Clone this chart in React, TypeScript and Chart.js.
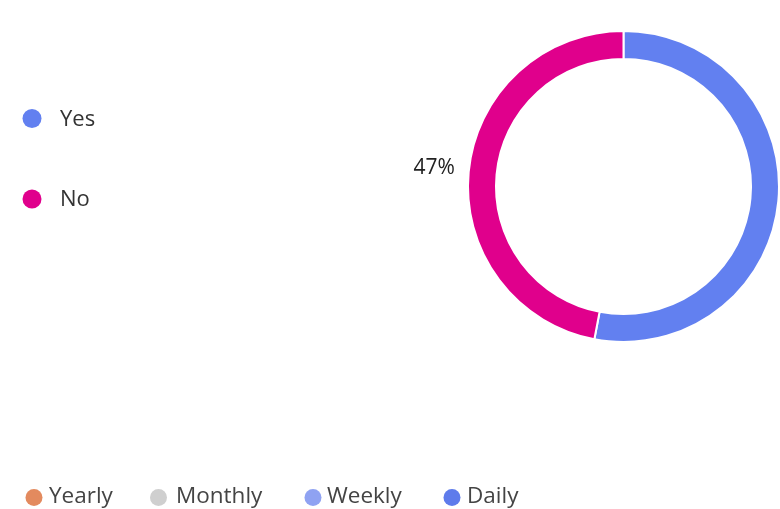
import React, { useEffect, useRef } from "react";
import { Chart, registerables } from "chart.js";

Chart.register(...registerables);

const categories = ["Yes", "No"];
const values = [53, 47];
const sliceColors = ["#6280F0", "#E0008C"];
const periodLabels = ["Yearly", "Monthly", "Weekly", "Daily"];
const periodColors = ["#E38A5E", "#CFCFCF", "#8FA2F2", "#5E7BEB"];

const FONT = '"Open Sans", "Noto Sans", sans-serif';

const overlayPlugin = {
  id: "overlay",
  afterDraw(chart: any) {
    const ctx = chart.ctx as CanvasRenderingContext2D;
    ctx.save();
    // left legend
    const legendY = [118.5, 199];
    categories.forEach((c, i) => {
      ctx.fillStyle = sliceColors[i];
      ctx.beginPath();
      ctx.arc(32, legendY[i], 9.5, 0, Math.PI * 2);
      ctx.fill();
      ctx.fillStyle = "#333333";
      ctx.font = `22px ${FONT}`;
      ctx.textAlign = "left";
      ctx.textBaseline = "middle";
      ctx.fillText(c, 60, legendY[i] + 1);
    });
    // bottom legend
    const dotX = [34, 158.5, 313, 452];
    const textX = [49, 176, 327, 467];
    periodLabels.forEach((p, i) => {
      ctx.fillStyle = periodColors[i];
      ctx.beginPath();
      ctx.arc(dotX[i], 497.5, 8.5, 0, Math.PI * 2);
      ctx.fill();
      ctx.fillStyle = "#444444";
      ctx.font = `22.5px ${FONT}`;
      ctx.textAlign = "left";
      ctx.textBaseline = "middle";
      ctx.fillText(p, textX[i], 497);
    });
    // percentage label for "No"
    const meta = chart.getDatasetMeta(0);
    const total = values.reduce((a, b) => a + b, 0);
    const idx = 1;
    const arc = meta.data[idx] as any;
    const { x, y, startAngle, endAngle, outerRadius } = arc.getProps(
      ["x", "y", "startAngle", "endAngle", "outerRadius"],
      true
    );
    const mid = (startAngle + endAngle) / 2;
    const r = outerRadius + 14;
    const lx = x + Math.cos(mid) * r;
    const ly = y + Math.sin(mid) * r;
    ctx.fillStyle = "#222222";
    ctx.font = `21px ${FONT}`;
    ctx.textAlign = "right";
    ctx.textBaseline = "middle";
    ctx.fillText(Math.round((values[idx] / total) * 100) + "%", lx, ly - 3);
    ctx.restore();
  },
};

export default function App() {
  const ref = useRef<HTMLCanvasElement | null>(null);
  useEffect(() => {
    document.body.style.margin = "0";
    const chart = new Chart(ref.current!, {
      type: "doughnut",
      data: {
        labels: categories,
        datasets: [
          {
            data: values,
            backgroundColor: sliceColors,
            borderColor: "#ffffff",
            borderWidth: 2,
          },
        ],
      },
      options: {
        animation: false,
        responsive: false,
        cutout: "82%",
        layout: { padding: { left: 467, top: 30, right: 0, bottom: 166 } },
        plugins: {
          legend: { display: false },
          tooltip: { enabled: false },
        },
      },
      plugins: [overlayPlugin],
    });
    return () => chart.destroy();
  }, []);
  return (
    <div style={{ width: 780, height: 509, background: "#ffffff" }}>
      <canvas ref={ref} width={780} height={509} style={{ display: "block" }} />
    </div>
  );
}
